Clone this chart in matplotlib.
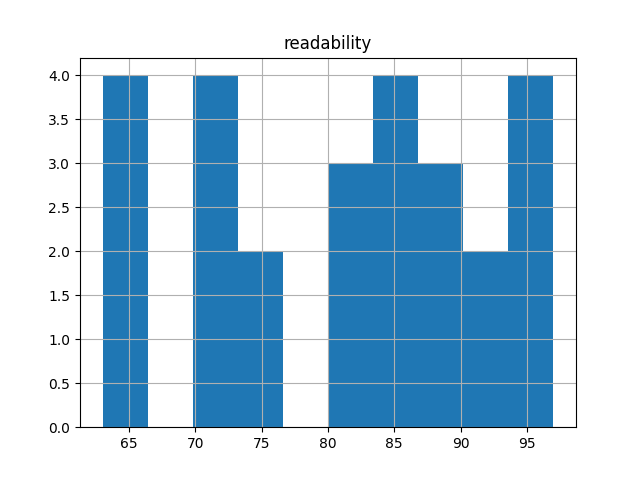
import pandas as pd
import matplotlib
matplotlib.use("Agg")
import matplotlib.pyplot as plt

# readability scores (10 bins from 63 to 97)
readability = [63, 64, 65, 66,
               70, 71, 72, 73,
               74, 76,
               80, 81, 83,
               84, 85, 85, 86,
               87, 88, 90,
               91, 93,
               94, 95, 96, 97]

df = pd.DataFrame({"readability": readability})

fig, ax = plt.subplots(figsize=(6.4, 4.8), dpi=100)
df.hist(column="readability", bins=10, ax=ax)
fig.savefig("out.png")
